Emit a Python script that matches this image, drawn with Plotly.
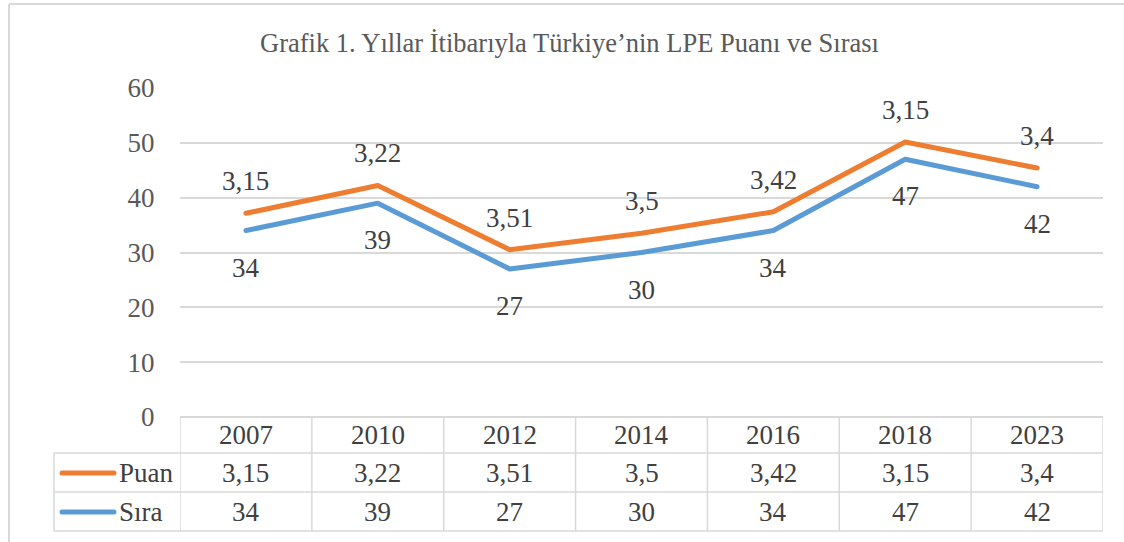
import plotly.graph_objects as go

years = ["2007", "2010", "2012", "2014", "2016", "2018", "2023"]
puan = [3.15, 3.22, 3.51, 3.5, 3.42, 3.15, 3.4]
sira = [34, 39, 27, 30, 34, 47, 42]
puan_labels = ["3,15", "3,22", "3,51", "3,5", "3,42", "3,15", "3,4"]
sira_labels = ["34", "39", "27", "30", "34", "47", "42"]
y_ticks = [0, 10, 20, 30, 40, 50, 60]

W, H = 1124, 542
PL, PR, PT, PB = 180, 1103, 88, 417
FONT = "Liberation Serif"
FS = 27
ORANGE = "#ED7D31"
BLUE = "#5B9BD5"
GRID = "#D9D9D9"
TXT = "#404040"


def px_x(px):
    return (px - PL) / (PR - PL)


def px_y(py):
    return (PB - py) / (PB - PT)


stacked = [s + p for s, p in zip(sira, puan)]

fig = go.Figure()
fig.add_trace(go.Scatter(x=years, y=sira, mode="lines", name="Sıra",
                         line=dict(color=BLUE, width=5), hoverinfo="skip"))
fig.add_trace(go.Scatter(x=years, y=stacked, mode="lines", name="Puan",
                         line=dict(color=ORANGE, width=5), hoverinfo="skip"))

ann = []
for i, (yv, lab) in enumerate(zip(stacked, puan_labels)):
    ann.append(dict(x=i, y=yv, xref="x", yref="y", text=lab, showarrow=False,
                    xanchor="center", yanchor="middle", yshift=32,
                    font=dict(family=FONT, size=FS, color=TXT)))
for i, (yv, lab) in enumerate(zip(sira, sira_labels)):
    ann.append(dict(x=i, y=yv, xref="x", yref="y", text=lab, showarrow=False,
                    xanchor="center", yanchor="middle", yshift=-37,
                    font=dict(family=FONT, size=FS, color=TXT)))

# title
ann.append(dict(x=px_x(569), y=px_y(43), xref="paper", yref="paper",
                xanchor="center", yanchor="middle",
                text="Grafik 1. Yıllar İtibarıyla Türkiye’nin LPE Puanı ve Sırası",
                showarrow=False, font=dict(family=FONT, size=26.5, color="#595959")))

# data table
row_year, row_puan, row_sira = px_y(435), px_y(473), px_y(512)
for i, yr in enumerate(years):
    for yrow, txt in ((row_year, yr), (row_puan, puan_labels[i]), (row_sira, sira_labels[i])):
        ann.append(dict(x=i, y=yrow, xref="x", yref="paper", text=txt, showarrow=False,
                        xanchor="center", yanchor="middle",
                        font=dict(family=FONT, size=FS, color=TXT)))
for yrow, txt in ((row_puan, "Puan"), (row_sira, "Sıra")):
    ann.append(dict(x=px_x(117), y=yrow, xref="paper", yref="paper", text=txt, showarrow=False,
                    xanchor="left", yanchor="middle",
                    font=dict(family=FONT, size=FS, color=TXT)))

shapes = []
lc = dict(color=GRID, width=1.5)
t_top, t_r1, t_r2, t_bot = px_y(417), px_y(453), px_y(492), px_y(531)
x_leg = px_x(54)
for yv in (t_r1, t_r2, t_bot):
    shapes.append(dict(type="line", xref="paper", yref="paper", x0=x_leg, x1=1, y0=yv, y1=yv, line=lc))
for k in range(len(years) + 1):
    shapes.append(dict(type="line", xref="x", yref="paper", x0=k - 0.5, x1=k - 0.5,
                       y0=t_top, y1=t_bot, line=lc))
shapes.append(dict(type="line", xref="paper", yref="paper", x0=x_leg, x1=x_leg,
                   y0=t_r1, y1=t_bot, line=lc))
for yv, col in ((row_puan, ORANGE), (row_sira, BLUE)):
    shapes.append(dict(type="line", xref="paper", yref="paper", x0=px_x(62), x1=px_x(114),
                       y0=yv, y1=yv, line=dict(color=col, width=5)))
shapes.append(dict(type="line", xref="paper", yref="paper", x0=px_x(9), x1=px_x(1130),
                   y0=px_y(4), y1=px_y(4), line=dict(color=GRID, width=2)))
shapes.append(dict(type="line", xref="paper", yref="paper", x0=px_x(9), x1=px_x(9),
                   y0=px_y(4), y1=px_y(550), line=dict(color=GRID, width=2)))

fig.update_layout(
    width=W, height=H,
    margin=dict(l=PL, r=W - PR, t=PT, b=H - PB),
    paper_bgcolor="white", plot_bgcolor="white",
    showlegend=False,
    annotations=ann, shapes=shapes,
    xaxis=dict(type="category", range=[-0.5, len(years) - 0.5], showticklabels=False,
               showgrid=False, zeroline=False, showline=False, ticks=""),
    yaxis=dict(range=[0, 60], tickvals=y_ticks, showgrid=True, gridcolor=GRID, gridwidth=1.5,
               zeroline=True, zerolinecolor=GRID, zerolinewidth=1.5, showline=False,
               ticks="outside", ticklen=19, tickcolor="rgba(0,0,0,0)",
               tickfont=dict(family=FONT, size=FS, color="#595959")),
)

post = (
    "document.body.style.margin='0';document.body.style.overflow='hidden';"
    "document.querySelectorAll('path.js-line').forEach(function(p){"
    "p.style.strokeLinecap='round';p.style.strokeLinejoin='round';});"
    "document.querySelectorAll('.shapelayer path').forEach(function(p){"
    "if(p.style.strokeWidth==='5px'){p.style.strokeLinecap='round';}});"
)
fig.write_html("out.html", config={"displayModeBar": False}, post_script=post)
